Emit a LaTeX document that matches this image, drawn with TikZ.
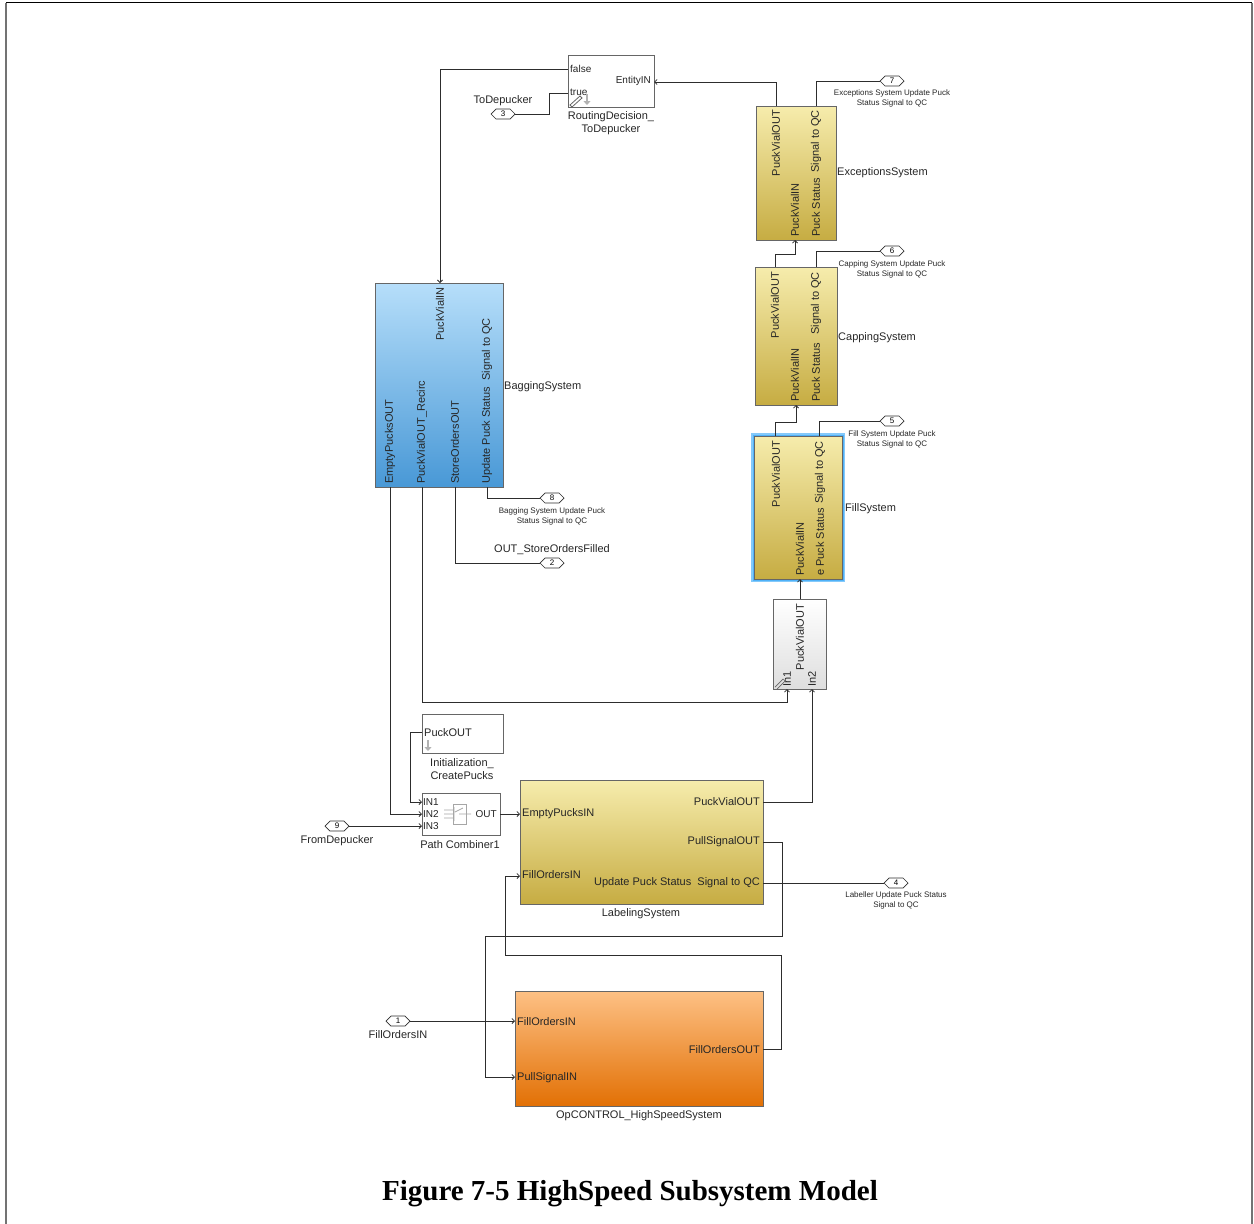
\documentclass[tikz,border=0pt]{standalone}
\usepackage{fontspec}
\setmainfont{Liberation Sans}
\newfontfamily\capfont{Liberation Serif}
\usetikzlibrary{arrows.meta,shapes.symbols}
\definecolor{ylTop}{RGB}{246,236,172}
\definecolor{ylBot}{RGB}{198,172,66}
\definecolor{blTop}{RGB}{182,222,250}
\definecolor{blBot}{RGB}{72,152,214}
\definecolor{orTop}{RGB}{253,192,132}
\definecolor{orBot}{RGB}{226,112,4}
\definecolor{whBot}{RGB}{222,222,222}
\definecolor{glow}{RGB}{80,178,248}
\definecolor{wirec}{RGB}{45,45,45}
\begin{document}
\begin{tikzpicture}[x=1pt,y=-1pt,
  wire/.style={draw=wirec, line width=0.8pt, -{Straight Barb[length=2.5pt,width=5pt]}},
  pwire/.style={draw=wirec, line width=0.8pt},
  blk/.style={draw=black!60, line width=0.9pt, anchor=north west, inner sep=0},
  ylw/.style={blk, top color=ylTop, bottom color=ylBot},
  lbl/.style={font=\fontsize{11}{12}\selectfont, inner sep=0, text=black!85},
  sl/.style={font=\fontsize{10}{11}\selectfont, inner sep=0, text=black!85},
  rl/.style={lbl, rotate=90},
  small/.style={font=\fontsize{8}{10}\selectfont, inner sep=0, align=center, text=black!85},
  tag/.style={signal, signal to=east and west, draw=wirec, line width=0.7pt, fill=white,
    minimum width=24pt, minimum height=10pt, inner sep=0, font=\fontsize{8}{9}\selectfont},
  icon/.style={draw=black!30, line width=2pt, -{Triangle[length=4pt,width=7pt]}}
]
\useasboundingbox (0,0) rectangle (1254,1224);
% page frame
\draw[black, line width=1.5pt] (6,2.5) -- (1252,2.5);
\draw[black!55, line width=1.5pt] (6,2.5) -- (6,1224);
\draw[black!55, line width=1.5pt] (1252,2.5) -- (1252,1224);

% ---------- blocks ----------
\node[blk, fill=white, minimum width=86pt, minimum height=52pt] (rd) at (568,55) {};
\node[ylw, minimum width=80pt, minimum height=134pt] (ex) at (756,106) {};
\node[ylw, minimum width=82pt, minimum height=138pt] (cap) at (755,267) {};
\node[ylw, preaction={draw=glow!70, line width=6pt}, preaction={draw=glow, line width=3.5pt}, minimum width=88pt, minimum height=143pt] (fill) at (754,436) {};
\node[blk, top color=white, bottom color=whBot, minimum width=53pt, minimum height=90pt] (wh) at (773,599) {};
\node[blk, top color=blTop, bottom color=blBot, minimum width=128pt, minimum height=204pt] (bag) at (375,283) {};
\node[blk, fill=white, minimum width=81pt, minimum height=39pt] (init) at (422,714) {};
\node[blk, fill=white, minimum width=78pt, minimum height=42pt] (pc) at (422,793) {};
\node[ylw, minimum width=243pt, minimum height=124pt] (lab) at (520,780) {};
\node[blk, top color=orTop, bottom color=orBot, minimum width=248pt, minimum height=115pt] (op) at (515,991) {};

% ---------- tags ----------
\node[tag] (t3) at (503,114) {3};
\node[tag] (t7) at (892,81) {7};
\node[tag] (t6) at (892,251) {6};
\node[tag] (t5) at (892,421) {5};
\node[tag] (t8) at (552,498) {8};
\node[tag] (t2) at (552,563) {2};
\node[tag] (t4) at (896,883) {4};
\node[tag] (t9) at (337,826) {9};
\node[tag] (t1) at (398,1021) {1};

% ---------- ports ----------
\coordinate (rd-f) at (568,69);
\coordinate (rd-t) at (568,93);
\coordinate (rd-in) at (654,82);
\coordinate (ex-pvo) at (776,106);
\coordinate (ex-sig) at (816,106);
\coordinate (ex-pvi) at (795,240);
\coordinate (cap-pvo) at (775,267);
\coordinate (cap-sig) at (816,267);
\coordinate (cap-pvi) at (796,405);
\coordinate (fill-pvo) at (775,436);
\coordinate (fill-sig) at (819,436);
\coordinate (fill-pvi) at (800,579);
\coordinate (wh-pvo) at (800,599);
\coordinate (wh-in1) at (787,689);
\coordinate (wh-in2) at (812,689);
\coordinate (bg-pvi) at (440,283);
\coordinate (bg-ep) at (390,487);
\coordinate (bg-rec) at (422,487);
\coordinate (bg-so) at (455,487);
\coordinate (bg-sig) at (487,487);
\coordinate (init-out) at (422,732);
\coordinate (pc-in1) at (422,802);
\coordinate (pc-in2) at (422,814);
\coordinate (pc-in3) at (422,826);
\coordinate (pc-out) at (500,814);
\coordinate (lab-ep) at (520,814);
\coordinate (lab-fo) at (520,876);
\coordinate (lab-pvo) at (763,802);
\coordinate (lab-ps) at (763,842);
\coordinate (lab-sig) at (763,883);
\coordinate (op-fi) at (515,1021);
\coordinate (op-ps) at (515,1077);
\coordinate (op-fo) at (763,1049);

% ---------- wires ----------
\draw[wire] (ex-pvo) |- (rd-in);
\draw[wire] (rd-f) -| (bg-pvi);
\draw[pwire] (rd-t) -- ++(-19,0) |- (t3.east);
\draw[pwire] (ex-sig) |- (t7.west);
\draw[wire] (cap-pvo) -- ++(0,-13) -| (ex-pvi);
\draw[pwire] (cap-sig) |- (t6.west);
\draw[wire] (fill-pvo) -- ++(0,-14) -| (cap-pvi);
\draw[pwire] (fill-sig) |- (t5.west);
\draw[wire] (wh-pvo) -- (fill-pvi);
\draw[wire] (bg-rec) -- ++(0,215) -| (wh-in1);
\draw[wire] (lab-pvo) -| (wh-in2);
\draw[pwire] (bg-sig) |- (t8.west);
\draw[pwire] (bg-so) |- (t2.west);
\draw[wire] (bg-ep) |- (pc-in2);
\draw[wire] (init-out) -- ++(-12,0) |- (pc-in1);
\draw[wire] (t9.east) -- (pc-in3);
\draw[wire] (pc-out) -- (lab-ep);
\draw[wire] (lab-ps) -- ++(19,0) |- ++(-297,94) |- (op-ps);
\draw[wire] (op-fo) -- ++(18,0) |- ++(-276,-94) |- (lab-fo);
\draw[pwire] (lab-sig) -- (t4.west);
\draw[wire] (t1.east) -- (op-fi);

% ---------- RoutingDecision ----------
\node[sl, anchor=west] (rdl1) at (570,69) {false};
\node[sl, anchor=west] (rdl2) at (570,92) {true};
\node[sl, anchor=east] (rdl3) at (651,81) {EntityIN};
\node[lbl, align=center] (rdn) at (611,123) {RoutingDecision\_\\[1.5pt]ToDepucker};
\draw[icon] (587,94) -- (587,105);
\draw[black!60, line width=0.8pt] (570,105) -- (580,96) -- (582,98) -- (572,107) -- cycle;
\node[lbl] (t3l) at (503,101) {ToDepucker};

% ---------- ExceptionsSystem ----------
\node[rl, anchor=east] (exa) at (776,110) {PuckVialOUT};
\node[rl, anchor=east] (exb) at (816,110) {Signal to QC};
\node[rl, anchor=west] (exc) at (795,237) {PuckVialIN};
\node[rl, anchor=west] (exd) at (816,237) {Puck Status};
\node[lbl, anchor=west] (exn) at (837,173) {ExceptionsSystem};
\node[small] (t7l) at (892,98.5) {Exceptions System Update Puck\\Status Signal to QC};

% ---------- CappingSystem ----------
\node[rl, anchor=east] (capa) at (775,272) {PuckVialOUT};
\node[rl, anchor=east] (capb) at (816,272) {Signal to QC};
\node[rl, anchor=west] (capc) at (795,402) {PuckVialIN};
\node[rl, anchor=west] (capd) at (816,402) {Puck Status};
\node[lbl, anchor=west] (capn) at (838,338) {CappingSystem};
\node[small] (t6l) at (892,269) {Capping System Update Puck\\Status Signal to QC};

% ---------- FillSystem ----------
\node[rl, anchor=east] (fa) at (776,441) {PuckVialOUT};
\node[rl, anchor=east] (fb) at (820,441) {Signal to QC};
\node[rl, anchor=west] (fc) at (800,576) {PuckVialIN};
\node[rl, anchor=west] (fd) at (820,576) {e Puck Status};
\node[lbl, anchor=west] (fn) at (845,509) {FillSystem};
\node[small] (t5l) at (892,439) {Fill System Update Puck\\Status Signal to QC};

% ---------- merge block ----------
\node[rl, anchor=east] (wha) at (800,604) {PuckVialOUT};
\node[rl, anchor=west] (whb) at (787,687) {In1};
\node[rl, anchor=west] (whc) at (812,687) {In2};
\draw[black!60, line width=0.7pt] (775,687) -- (783,679) -- (785,681) -- (777,689);

% ---------- BaggingSystem ----------
\node[rl, anchor=east] (bga) at (440,287) {PuckVialIN};
\node[rl, anchor=west] (bgb) at (390,484) {EmptyPucksOUT};
\node[rl, anchor=west] (bgc) at (422,484) {PuckVialOUT\_Recirc};
\node[rl, anchor=west] (bgd) at (455,484) {StoreOrdersOUT};
\node[rl, anchor=west] (bge) at (487,484) {Update Puck Status\ \ Signal to QC};
\node[lbl, anchor=west] (bgn) at (504,387) {BaggingSystem};
\node[small] (t8l) at (552,516) {Bagging System Update Puck\\Status Signal to QC};
\node[lbl] (t2l) at (552,550) {OUT\_StoreOrdersFilled};

% ---------- Initialization ----------
\node[lbl, anchor=west] (inl) at (424,733) {PuckOUT};
\draw[icon] (428,740) -- (428,751);
\node[lbl, align=center] (inn) at (462,769) {Initialization\_\\[1pt]CreatePucks};

% ---------- Path Combiner ----------
\node[sl, anchor=west] (pca) at (423,802) {IN1};
\node[sl, anchor=west] (pcb) at (423,814) {IN2};
\node[sl, anchor=west] (pcc) at (423,826) {IN3};
\node[sl, anchor=east] (pcd) at (497,814) {OUT};
\draw[black!35, line width=0.8pt] (453,804) rectangle (466,824);
\draw[black!35, line width=0.7pt] (444,810) -- (453,810) (444,814) -- (453,814) (444,818) -- (453,818)
  (455,812) -- (463,808) (459,814) -- (471,814) (454,807) -- (454,821);
\node[lbl] (pcn) at (460,845) {Path Combiner1};
\node[lbl] (t9l) at (337,841) {FromDepucker};

% ---------- LabelingSystem ----------
\node[lbl, anchor=west] (laa) at (522,814) {EmptyPucksIN};
\node[lbl, anchor=west] (lab2) at (522,875) {FillOrdersIN};
\node[lbl, anchor=east] (lac) at (760,802) {PuckVialOUT};
\node[lbl, anchor=east] (lad) at (760,842) {PullSignalOUT};
\node[lbl, anchor=east] (lae) at (760,883) {Update Puck Status\ \ Signal to QC};
\node[lbl] (lan) at (641,914) {LabelingSystem};
\node[small] (t4l) at (896,900.5) {Labeller Update Puck Status\\Signal to QC};

% ---------- OpCONTROL ----------
\node[lbl, anchor=west] (opa) at (517,1022) {FillOrdersIN};
\node[lbl, anchor=west] (opb) at (517,1078) {PullSignalIN};
\node[lbl, anchor=east] (opc) at (760,1050) {FillOrdersOUT};
\node[lbl] (opn) at (639,1116) {OpCONTROL\_HighSpeedSystem};
\node[lbl] (t1l) at (398,1035) {FillOrdersIN};

% ---------- caption ----------
\node[font=\capfont\bfseries\fontsize{29}{32}\selectfont, inner sep=0] (cap) at (630,1194) {Figure 7-5 HighSpeed Subsystem Model};
\end{tikzpicture}
\end{document}
